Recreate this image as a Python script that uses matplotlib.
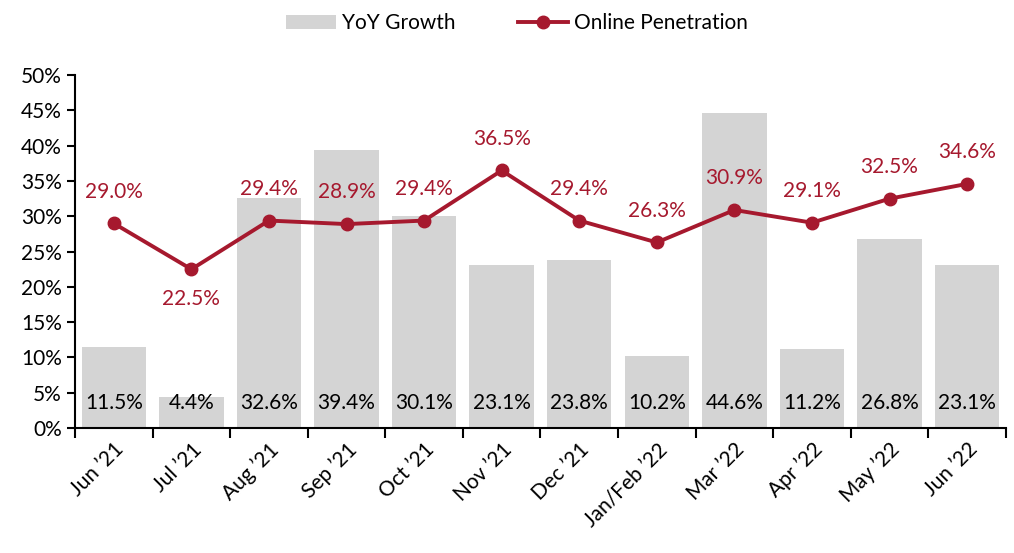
import matplotlib
matplotlib.use("Agg")
import matplotlib.pyplot as plt
import matplotlib.ticker as mtick
import numpy as np

months = ["Jun \u201921", "Jul \u201921", "Aug \u201921", "Sep \u201921", "Oct \u201921", "Nov \u201921",
          "Dec \u201921", "Jan/Feb \u201922", "Mar \u201922", "Apr \u201922", "May \u201922", "Jun \u201922"]
yoy_growth = [11.5, 4.4, 32.6, 39.4, 30.1, 23.1, 23.8, 10.2, 44.6, 11.2, 26.8, 23.1]
online_pen = [29.0, 22.5, 29.4, 28.9, 29.4, 36.5, 29.4, 26.3, 30.9, 29.1, 32.5, 34.6]

plt.rcParams["font.family"] = ["Lato", "DejaVu Sans"]

RED = "#A6192E"
GREY = "#D4D4D4"

fig = plt.figure(figsize=(10.14, 5.53), dpi=100)
ax = fig.add_axes([0.074, 0.226, 0.918, 0.638])

x = np.arange(len(months))
bars = ax.bar(x, yoy_growth, width=0.83, color=GREY, label="YoY Growth", zorder=1)
line, = ax.plot(x, online_pen, color=RED, linewidth=2.8, marker="o", markersize=9,
                label="Online Penetration", zorder=3)

# bar values sit along the bottom, line values above the markers
for xi, v in zip(x, yoy_growth):
    ax.text(xi, 3.5, f"{v:.1f}%", ha="center", va="center", fontsize=15, color="black", zorder=4)

for xi, v in zip(x, online_pen):
    if xi == 1:
        ax.text(xi, v - 4.2, f"{v:.1f}%", ha="center", va="center", fontsize=15, color=RED)
    else:
        ax.text(xi, v + 4.5, f"{v:.1f}%", ha="center", va="center", fontsize=15, color=RED)

ax.set_xlim(-0.5, len(months) - 0.5)
ax.set_ylim(0, 50)
ax.yaxis.set_major_locator(mtick.MultipleLocator(5))
ax.yaxis.set_major_formatter(mtick.FuncFormatter(lambda v, p: f"{v:.0f}%"))
ax.tick_params(axis="y", labelsize=15, direction="out", length=6, width=1.5)

ax.set_xticks(x)
ax.set_xticklabels(months, rotation=45, ha="right", rotation_mode="anchor", fontsize=15)
ax.tick_params(axis="x", which="major", length=0, pad=8)
ax.set_xticks(np.arange(-0.5, len(months), 1), minor=True)
ax.tick_params(axis="x", which="minor", length=7, width=1.5, direction="out")

for s in ["top", "right"]:
    ax.spines[s].set_visible(False)
for s in ["left", "bottom"]:
    ax.spines[s].set_linewidth(1.5)

fig.legend([bars, line], ["YoY Growth", "Online Penetration"],
           loc="upper center", bbox_to_anchor=(0.51, 1.01), ncol=2, frameon=False,
           fontsize=15, handlelength=2.4, columnspacing=3.0, handletextpad=0.3)

fig.savefig("out.png", dpi=100)
